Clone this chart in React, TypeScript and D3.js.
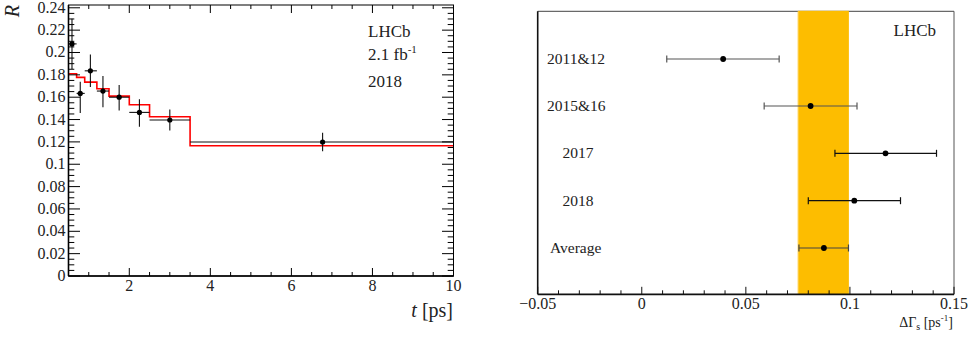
import React from "react";
import * as d3 from "d3";

// Left panel: ratio R vs decay time
const binEdges = [0.5, 0.7, 0.9, 1.2, 1.5, 2.0, 2.5, 3.5, 10];
const pointT = [0.586, 0.79, 1.04, 1.35, 1.75, 2.25, 3.0, 6.77];
const pointR = [0.2077, 0.1634, 0.1836, 0.1655, 0.160, 0.1464, 0.1396, 0.1199];
const errUp = [0.0225, 0.0105, 0.0145, 0.0135, 0.011, 0.0118, 0.0095, 0.0083];
const errDn = [0.0225, 0.0175, 0.0145, 0.0145, 0.012, 0.0128, 0.0095, 0.0083];
const fitR = [0.181, 0.1777, 0.1735, 0.1675, 0.161, 0.1532, 0.1425, 0.1166];
const yTicksLeft = [0, 0.02, 0.04, 0.06, 0.08, 0.1, 0.12, 0.14, 0.16, 0.18, 0.2, 0.22, 0.24];
const xTicksLeft = [2, 4, 6, 8, 10];

// Right panel: Delta Gamma_s per period
const periods = ["2011&12", "2015&16", "2017", "2018", "Average"];
const dgVal = [0.0391, 0.0811, 0.1171, 0.1021, 0.0875];
const dgLo = [0.012, 0.0588, 0.0928, 0.080, 0.0755];
const dgHi = [0.066, 0.1034, 0.1416, 0.1243, 0.0993];
const bandLo = 0.0751;
const bandHi = 0.0995;
const xTicksRight = [-0.05, 0, 0.05, 0.1, 0.15];

const font = "Liberation Serif, Times New Roman, DejaVu Serif, serif";

export default function App() {
  const xL = d3.scaleLinear().domain([0.5, 10]).range([68.5, 453.5]);
  const yL = d3.scaleLinear().domain([0, 0.2425]).range([276, 5]);
  const [lx0, lx1] = xL.range();
  const [ly0, ly1] = yL.range();

  const yMinor = d3.range(0, 0.2426, 0.005);
  const xMinor = d3.range(0.5, 10.001, 0.5);

  const fitPath = (() => {
    let p = "";
    fitR.forEach((r, i) => {
      const a = xL(binEdges[i]);
      const b = xL(binEdges[i + 1]);
      const y = yL(r);
      p += i === 0 ? `M${a},${y}` : `L${a},${y}`;
      p += `L${b},${y}`;
    });
    return p;
  })();

  const xR = d3.scaleLinear().domain([-0.05, 0.15]).range([537.7, 954]);
  const rowY = [59, 106, 153.3, 200.7, 248];
  const labelX = [547, 547, 562.5, 562.5, 550];
  const rTop = 11.3;
  const rBot = 294.3;
  const rMinor = d3.range(-0.05, 0.1501, 0.01);
  const barColors = ["#555", "#555", "#111", "#111", "#444"];

  const fmt = (v: number) => {
    if (v === 0) return "0";
    const s = String(+v.toFixed(3));
    return s.replace("-", "\u2212");
  };

  return (
    <svg width={969} height={338} style={{ display: "block", position: "absolute", left: 0, top: 0, background: "#fff", fontFamily: font }}>
      <g>
        <path d={fitPath} fill="none" stroke="#f00" strokeWidth={1.6} />
        {pointT.map((t, i) => (
          <g key={i} stroke="#111" strokeWidth={1.1}>
            <line x1={xL(binEdges[i])} x2={xL(binEdges[i + 1])} y1={yL(pointR[i])} y2={yL(pointR[i])} />
            <line x1={xL(t)} x2={xL(t)} y1={yL(pointR[i] + errUp[i])} y2={yL(pointR[i] - errDn[i])} />
            <circle cx={xL(t)} cy={yL(pointR[i])} r={2.6} fill="#000" stroke="none" />
          </g>
        ))}
        <rect x={lx0} y={ly1} width={lx1 - lx0} height={ly0 - ly1} fill="none" stroke="#000" strokeWidth={1} />
        <line x1={lx0} x2={lx1} y1={ly0} y2={ly0} stroke="#000" strokeWidth={1.6} />
        <line x1={lx0} x2={lx0} y1={ly0} y2={ly1} stroke="#000" strokeWidth={1.6} />
        {yMinor.map((v, i) => {
          const major = i % 4 === 0;
          const len = major ? 11.5 : 5.8;
          const y = yL(v);
          return (
            <g key={"ym" + i} stroke="#000" strokeWidth={1}>
              <line x1={lx0} x2={lx0 + len} y1={y} y2={y} />
              <line x1={lx1} x2={lx1 - len} y1={y} y2={y} />
            </g>
          );
        })}
        {xMinor.map((v, i) => {
          const major = Math.abs(v - Math.round(v / 2) * 2) < 1e-6 && v >= 2;
          const len = major ? 8 : 4;
          const x = xL(v);
          return (
            <g key={"xm" + i} stroke="#000" strokeWidth={1}>
              <line x1={x} x2={x} y1={ly0} y2={ly0 - len} />
              <line x1={x} x2={x} y1={ly1} y2={ly1 + len} />
            </g>
          );
        })}
        {yTicksLeft.map((v) => (
          <text key={"yl" + v} x={65.5} y={yL(v) + 5} textAnchor="end" fontSize={16} fill="#222">
            {fmt(v)}
          </text>
        ))}
        {xTicksLeft.map((v) => (
          <text key={"xl" + v} x={xL(v)} y={291} textAnchor="middle" fontSize={16} fill="#222">
            {fmt(v)}
          </text>
        ))}
        <text x={453} y={317} textAnchor="end" fontSize={20} fill="#222">
          <tspan fontStyle="italic">t</tspan> [ps]
        </text>
        <text transform="translate(19,5) rotate(-90)" textAnchor="end" fontSize={20} fontStyle="italic" fill="#222">
          R
        </text>
        <text x={368} y={37} fontSize={17} fill="#222">LHCb</text>
        <text x={368} y={60} fontSize={17} fill="#222">
          2.1 fb<tspan dy={-7} fontSize={11}>-1</tspan>
        </text>
        <text x={368} y={87} fontSize={17} fill="#222">2018</text>
      </g>

      <g>
        <line x1={xR(-0.05)} x2={xR(0.15)} y1={rTop} y2={rTop} stroke="#444" strokeWidth={1} />
        <line x1={xR(0.15)} x2={xR(0.15)} y1={rTop} y2={rBot} stroke="#555" strokeWidth={1} />
        <rect x={xR(bandLo)} y={rTop - 0.5} width={xR(bandHi) - xR(bandLo)} height={rBot - rTop + 0.5} fill="#fdbd00" />
        <line x1={xR(bandLo)} x2={xR(bandLo)} y1={rTop} y2={rBot} stroke="#ffd050" strokeWidth={1} />
        <line x1={xR(-0.05)} x2={xR(-0.05)} y1={rTop} y2={rBot} stroke="#111" strokeWidth={1.6} />
        <line x1={xR(-0.05)} x2={xR(0.15)} y1={rBot} y2={rBot} stroke="#111" strokeWidth={1.8} />
        {rMinor.map((v, i) => {
          const major = i % 5 === 0;
          const x = xR(v);
          return <line key={"rm" + i} x1={x} x2={x} y1={rBot} y2={rBot - (major ? 7.5 : 4)} stroke="#111" strokeWidth={1} />;
        })}
        {xTicksRight.map((v) => (
          <text key={"xr" + v} x={xR(v)} y={309} textAnchor="middle" fontSize={16} fill="#222">
            {fmt(v)}
          </text>
        ))}
        <text x={953} y={327} textAnchor="end" fontSize={14} fill="#222">
          ΔΓ<tspan dy={3} fontSize={10}>s</tspan>
          <tspan dy={-3}> [ps</tspan>
          <tspan dy={-6} fontSize={9}>-1</tspan>
          <tspan dy={6}>]</tspan>
        </text>
        <text x={936} y={36} textAnchor="end" fontSize={17} fill="#222">LHCb</text>
        {periods.map((p, i) => (
          <g key={p}>
            <text x={labelX[i]} y={rowY[i] + 5} fontSize={15.5} fill="#222">{p}</text>
            <g stroke={barColors[i]} strokeWidth={1.2}>
              <line x1={xR(dgLo[i])} x2={xR(dgHi[i])} y1={rowY[i]} y2={rowY[i]} />
              <line x1={xR(dgLo[i])} x2={xR(dgLo[i])} y1={rowY[i] - 3.5} y2={rowY[i] + 3.5} />
              <line x1={xR(dgHi[i])} x2={xR(dgHi[i])} y1={rowY[i] - 3.5} y2={rowY[i] + 3.5} />
            </g>
            <circle cx={xR(dgVal[i])} cy={rowY[i]} r={2.9} fill="#000" />
          </g>
        ))}
      </g>
    </svg>
  );
}
